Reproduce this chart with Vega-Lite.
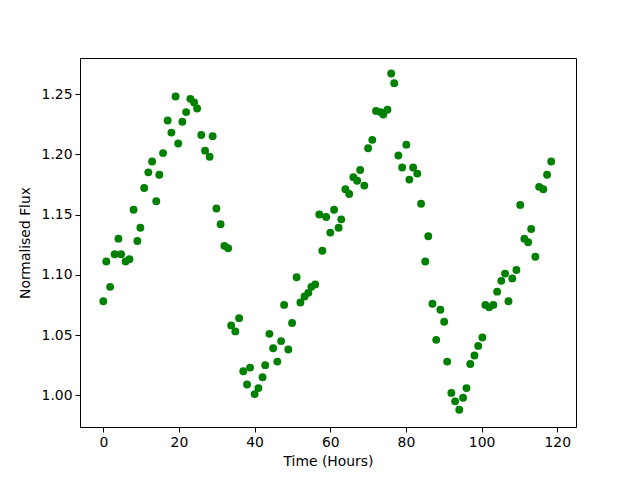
{
  "$schema": "https://vega.github.io/schema/vega-lite/v6.json",
  "width": 496,
  "height": 369,
  "autosize": "none",
  "padding": {"left": 80, "top": 58, "right": 64, "bottom": 53},
  "background": "white",
  "config": {
    "view": {"stroke": "black", "strokeWidth": 1},
    "axis": {
      "grid": false,
      "domain": false,
      "tickColor": "black",
      "tickSize": 5,
      "tickWidth": 1,
      "labelFont": "DejaVu Sans",
      "labelFontSize": 13.9,
      "labelColor": "black",
      "labelPadding": 3,
      "titleFont": "DejaVu Sans",
      "titleFontSize": 13.9,
      "titleFontWeight": "normal",
      "titleColor": "black"
    }
  },
  "data": {
    "values": [
      {"t": 0, "f": 1.078}, {"t": 0.8, "f": 1.111}, {"t": 1.8, "f": 1.090}, {"t": 3.0, "f": 1.117},
      {"t": 4.0, "f": 1.130}, {"t": 4.7, "f": 1.117}, {"t": 5.9, "f": 1.111}, {"t": 6.9, "f": 1.113},
      {"t": 8.0, "f": 1.154}, {"t": 9.0, "f": 1.128}, {"t": 9.8, "f": 1.139}, {"t": 10.8, "f": 1.172},
      {"t": 11.9, "f": 1.185}, {"t": 12.9, "f": 1.194}, {"t": 14.0, "f": 1.161}, {"t": 14.8, "f": 1.183},
      {"t": 15.8, "f": 1.201}, {"t": 17.0, "f": 1.228}, {"t": 18.0, "f": 1.218}, {"t": 19.1, "f": 1.248},
      {"t": 19.8, "f": 1.209}, {"t": 20.9, "f": 1.227}, {"t": 21.9, "f": 1.235}, {"t": 23.0, "f": 1.246},
      {"t": 24.0, "f": 1.243}, {"t": 24.8, "f": 1.238}, {"t": 25.9, "f": 1.216}, {"t": 26.9, "f": 1.203},
      {"t": 28.1, "f": 1.198}, {"t": 28.9, "f": 1.215}, {"t": 29.9, "f": 1.155}, {"t": 31.0, "f": 1.142},
      {"t": 32.0, "f": 1.124}, {"t": 33.0, "f": 1.122}, {"t": 33.8, "f": 1.058}, {"t": 34.9, "f": 1.053},
      {"t": 35.9, "f": 1.064}, {"t": 37.0, "f": 1.020}, {"t": 38.0, "f": 1.009}, {"t": 38.8, "f": 1.023},
      {"t": 40.0, "f": 1.001}, {"t": 41.0, "f": 1.006}, {"t": 42.1, "f": 1.015}, {"t": 42.8, "f": 1.025},
      {"t": 43.9, "f": 1.051}, {"t": 44.9, "f": 1.039}, {"t": 46.0, "f": 1.028}, {"t": 47.0, "f": 1.045},
      {"t": 47.8, "f": 1.075}, {"t": 48.9, "f": 1.038}, {"t": 49.9, "f": 1.060}, {"t": 51.1, "f": 1.098},
      {"t": 52.1, "f": 1.077}, {"t": 53.2, "f": 1.082}, {"t": 54.2, "f": 1.085}, {"t": 55.0, "f": 1.090},
      {"t": 56.0, "f": 1.092}, {"t": 57.1, "f": 1.150}, {"t": 57.9, "f": 1.120}, {"t": 58.9, "f": 1.148},
      {"t": 60.0, "f": 1.135}, {"t": 61.0, "f": 1.154}, {"t": 62.2, "f": 1.139}, {"t": 62.9, "f": 1.146},
      {"t": 64.0, "f": 1.171}, {"t": 65.0, "f": 1.167}, {"t": 66.1, "f": 1.181}, {"t": 67.1, "f": 1.178},
      {"t": 67.9, "f": 1.187}, {"t": 69.0, "f": 1.174}, {"t": 70.0, "f": 1.205}, {"t": 71.1, "f": 1.212},
      {"t": 72.1, "f": 1.236}, {"t": 73.3, "f": 1.235}, {"t": 74.0, "f": 1.233}, {"t": 75.1, "f": 1.237},
      {"t": 76.1, "f": 1.267}, {"t": 76.9, "f": 1.259}, {"t": 78.0, "f": 1.199}, {"t": 79.0, "f": 1.189},
      {"t": 80.1, "f": 1.208}, {"t": 80.9, "f": 1.179}, {"t": 81.9, "f": 1.189}, {"t": 83.0, "f": 1.184},
      {"t": 84.0, "f": 1.159}, {"t": 85.1, "f": 1.111}, {"t": 85.9, "f": 1.132}, {"t": 87.0, "f": 1.076},
      {"t": 88.0, "f": 1.046}, {"t": 89.1, "f": 1.071}, {"t": 90.1, "f": 1.061}, {"t": 90.9, "f": 1.028},
      {"t": 92.0, "f": 1.002}, {"t": 93.0, "f": 0.995}, {"t": 94.1, "f": 0.988}, {"t": 95.1, "f": 0.998},
      {"t": 96.0, "f": 1.006}, {"t": 97.0, "f": 1.026}, {"t": 98.1, "f": 1.033}, {"t": 99.1, "f": 1.041},
      {"t": 100.2, "f": 1.048}, {"t": 101.0, "f": 1.075}, {"t": 102.0, "f": 1.073}, {"t": 103.1, "f": 1.075},
      {"t": 104.1, "f": 1.086}, {"t": 105.2, "f": 1.095}, {"t": 106.2, "f": 1.101}, {"t": 107.1, "f": 1.078},
      {"t": 108.1, "f": 1.097}, {"t": 109.2, "f": 1.104}, {"t": 110.2, "f": 1.158}, {"t": 111.3, "f": 1.130},
      {"t": 112.3, "f": 1.127}, {"t": 113.1, "f": 1.138}, {"t": 114.2, "f": 1.115}, {"t": 115.2, "f": 1.173},
      {"t": 116.3, "f": 1.171}, {"t": 117.3, "f": 1.183}, {"t": 118.4, "f": 1.194}
    ]
  },
  "mark": {"type": "point", "shape": "circle", "filled": true, "opacity": 1, "color": "#008000", "size": 62},
  "encoding": {
    "x": {
      "field": "t", "type": "quantitative", "title": "Time (Hours)",
      "scale": {"domain": [-6.16, 124.95], "nice": false, "zero": false},
      "axis": {"values": [0, 20, 40, 60, 80, 100, 120], "labelFlush": false, "titlePadding": 6}
    },
    "y": {
      "field": "f", "type": "quantitative", "title": "Normalised Flux",
      "scale": {"domain": [0.9737, 1.2799], "nice": false, "zero": false},
      "axis": {"values": [1.0, 1.05, 1.1, 1.15, 1.2, 1.25], "format": ".2f", "labelFlush": false, "titlePadding": 9}
    }
  }
}
